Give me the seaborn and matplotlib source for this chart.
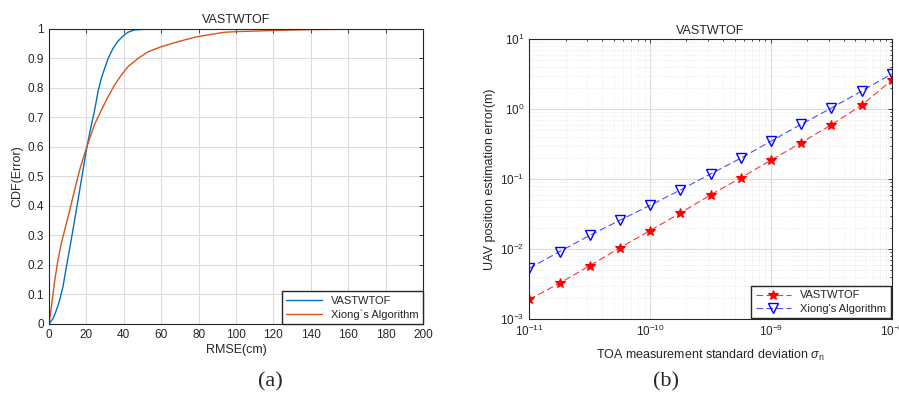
import numpy as np
import pandas as pd
import seaborn as sns
import matplotlib
matplotlib.use("Agg")
from matplotlib import pyplot as plt
from matplotlib.ticker import LogLocator, NullFormatter

# (a) CDF of RMSE
vast_rmse = [0, 2.2, 4.0, 5.7, 7.5, 9.3, 11.1, 12.8, 14.6, 16.4, 18.2, 20.0,
             22.0, 24.4, 26.2, 28.0, 29.8, 31.6, 34.2, 36.9, 39.6, 42.2, 45.8,
             51.2, 60, 69]
vast_cdf = [0, 0.019, 0.047, 0.081, 0.127, 0.194, 0.257, 0.319, 0.386, 0.454,
            0.522, 0.59, 0.655, 0.725, 0.788, 0.833, 0.867, 0.90, 0.934, 0.959,
            0.976, 0.989, 0.997, 0.999, 1.0, 1.0]
xiong_rmse = [0, 1.3, 3.1, 4.8, 6.6, 8.4, 11.1, 13.7, 16.4, 19.1, 21.5, 24.4,
              28.0, 31.6, 35.1, 38.7, 42.2, 47.6, 53, 60.1, 69, 77.9, 86.8, 94,
              100, 120, 140, 160, 200]
xiong_cdf = [0, 0.059, 0.149, 0.217, 0.274, 0.319, 0.386, 0.454, 0.522, 0.579,
             0.625, 0.677, 0.725, 0.771, 0.81, 0.844, 0.872, 0.90, 0.923, 0.94,
             0.957, 0.972, 0.982, 0.989, 0.991, 0.995, 0.998, 0.999, 1.0]

# (b) position error vs TOA std
toa_exp = [-11, -10.75, -10.5, -10.25, -10, -9.75, -9.5, -9.25, -9, -8.75,
           -8.5, -8.25, -8]
vast_err = [0.00193, 0.00327, 0.00583, 0.0105, 0.0185, 0.033, 0.0597, 0.105,
            0.187, 0.333, 0.6, 1.14, 2.6]
xiong_err = [0.00535, 0.00927, 0.0158, 0.026, 0.0425, 0.0703, 0.119, 0.2,
             0.35, 0.61, 1.04, 1.82, 3.2]

sns.set_style("white")
plt.rcParams['font.family'] = ['Liberation Sans', 'DejaVu Sans']
plt.rcParams['mathtext.fontset'] = 'custom'
plt.rcParams['mathtext.rm'] = 'Liberation Sans'
plt.rcParams['mathtext.it'] = 'Liberation Sans:italic'
txt = '#262626'

fig = plt.figure(figsize=(8.99, 3.94), dpi=100)
ax1 = fig.add_axes([0.0545, 0.1777, 0.416, 0.7487])
ax2 = fig.add_axes([0.5888, 0.1896, 0.4031, 0.7107])

# ---- (a)
sns.lineplot(x=vast_rmse, y=vast_cdf, ax=ax1, color='#0072BD', lw=1.0,
             label='VASTWTOF')
sns.lineplot(x=xiong_rmse, y=xiong_cdf, ax=ax1, color='#D95319', lw=1.0,
             label='Xiong`s Algorithm')
ax1.set_xlim(0, 200)
ax1.set_ylim(0, 1)
ax1.set_xticks(np.arange(0, 201, 20))
ax1.set_yticks(np.arange(0, 1.01, 0.1))
ax1.set_yticklabels(['0', '0.1', '0.2', '0.3', '0.4', '0.5', '0.6', '0.7',
                     '0.8', '0.9', '1'])
ax1.grid(True, color='#dcdcdc', lw=0.8)
ax1.set_xlabel('RMSE(cm)', fontsize=9, color=txt, labelpad=2)
ax1.set_ylabel('CDF(Error)', fontsize=9, color=txt, labelpad=3)
ax1.set_title('VASTWTOF', fontsize=9, color=txt, pad=4)
ax1.legend(loc='lower right', fontsize=8, frameon=True, fancybox=False,
           edgecolor='#262626', framealpha=1, borderaxespad=0,
           handlelength=3.2, labelspacing=0.3)

# ---- (b)
toa = [10.0 ** e for e in toa_exp]
sns.lineplot(x=toa, y=vast_err, ax=ax2, color='#ff3333', lw=0.8,
             linestyle=(0, (6, 3)), marker='*', markersize=7,
             markeredgecolor='red', markerfacecolor='red',
             markeredgewidth=0.8, label='VASTWTOF')
sns.lineplot(x=toa, y=xiong_err, ax=ax2, color='#4d4dff', lw=0.8,
             linestyle=(0, (6, 3)), marker='v', markersize=7,
             markeredgecolor='blue', markerfacecolor='none',
             markeredgewidth=1.0, label="Xiong's Algorithm")
ax2.set_xscale('log')
ax2.set_yscale('log')
ax2.set_xlim(1e-11, 1e-8)
ax2.set_ylim(1e-3, 1e1)
ax2.xaxis.set_major_locator(LogLocator(base=10, numticks=10))
ax2.yaxis.set_major_locator(LogLocator(base=10, numticks=10))
ax2.xaxis.set_minor_locator(LogLocator(base=10, subs=np.arange(2, 10), numticks=20))
ax2.yaxis.set_minor_locator(LogLocator(base=10, subs=np.arange(2, 10), numticks=20))
ax2.xaxis.set_minor_formatter(NullFormatter())
ax2.yaxis.set_minor_formatter(NullFormatter())
ax2.grid(True, which='major', color='#dcdcdc', lw=0.8)
ax2.grid(True, which='minor', color='#e4e4e4', lw=0.6, linestyle=':')
ax2.set_xlabel(r'TOA measurement standard deviation $\sigma_{\rm n}$',
               fontsize=9, color=txt, labelpad=6)
ax2.set_ylabel('UAV position estimation error(m)', fontsize=9, color=txt,
               labelpad=3)
ax2.set_title('VASTWTOF', fontsize=9, color=txt, pad=4)
ax2.legend(loc='lower right', fontsize=8, frameon=True, fancybox=False,
           edgecolor='#262626', framealpha=1, borderaxespad=0.1,
           handlelength=3.2, labelspacing=0.3)

for ax in (ax1, ax2):
    for s in ax.spines.values():
        s.set_color('#262626')
        s.set_linewidth(0.8)
    ax.tick_params(which='both', direction='in', top=True, right=True,
                   labelsize=8.5, colors=txt, length=3, width=0.6)
    ax.tick_params(which='minor', length=1.5)

fig.text(0.301, 0.031, '(a)', fontsize=16, family='Liberation Serif',
         ha='center', va='center')
fig.text(0.741, 0.031, '(b)', fontsize=16, family='Liberation Serif',
         ha='center', va='center')

fig.savefig('out.png', dpi=100)
